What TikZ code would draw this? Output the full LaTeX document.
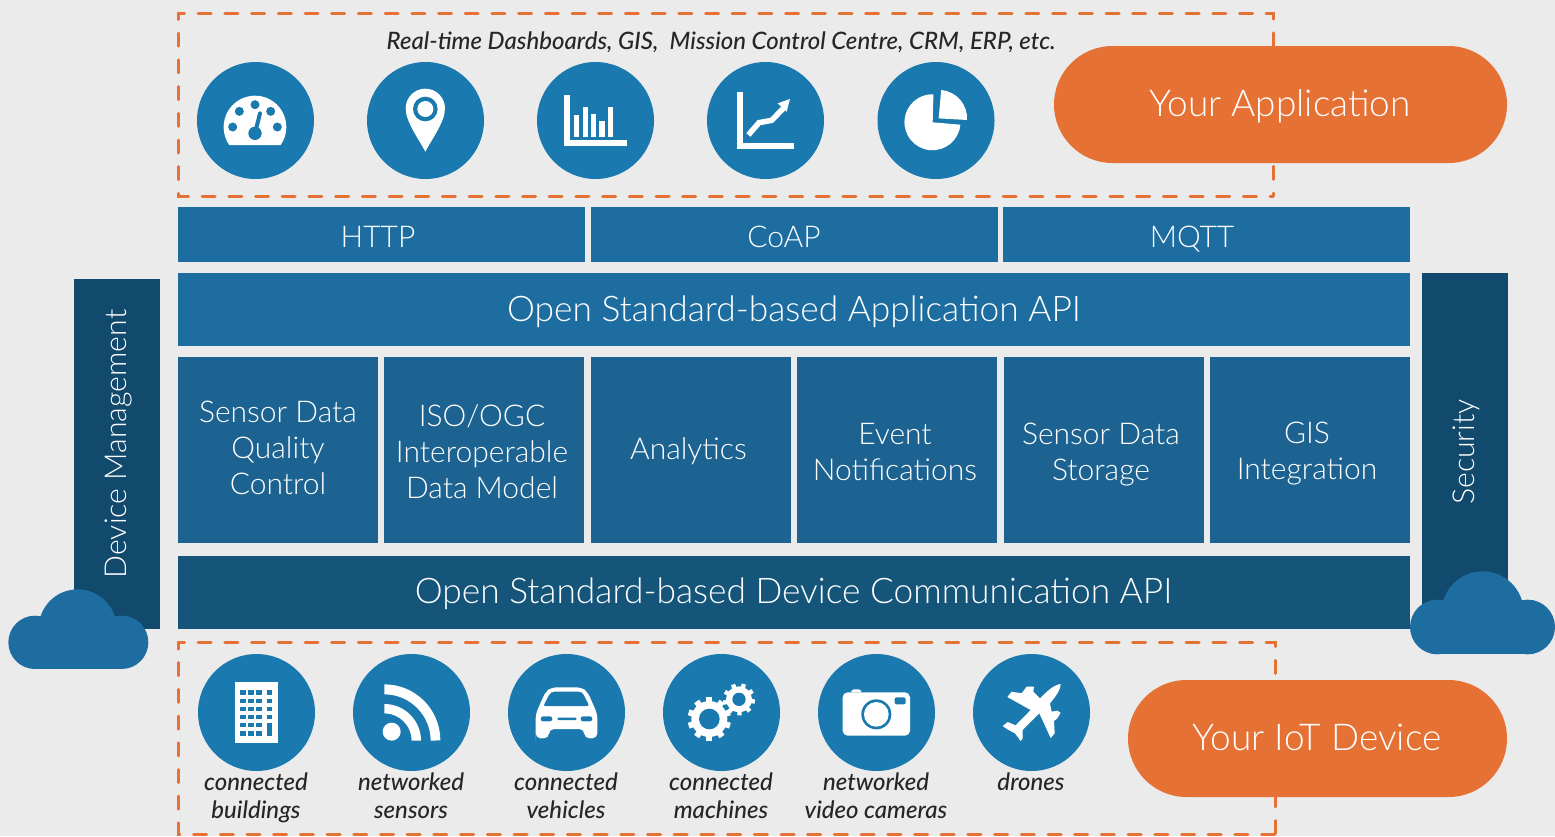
\documentclass[tikz,border=0pt]{standalone}
\usepackage{fontspec}
\setmainfont{Lato Light}
\newfontfamily\capf{Lato Medium}
\definecolor{bgc}{HTML}{EBEBEB}
\definecolor{circc}{HTML}{1A7AAF}
\definecolor{orng}{HTML}{E57134}
\definecolor{topb}{HTML}{1E6DA0}
\definecolor{midb}{HTML}{1D6391}
\definecolor{lowb}{HTML}{15557A}
\definecolor{sideb}{HTML}{124A6D}
\tikzset{
 lab/.style={inner sep=0pt,outer sep=0pt,text=white,align=center,anchor=center},
 protolab/.style={lab,font=\fontsize{30}{36}\selectfont},
 apilab/.style={lab,font=\fontsize{35.3}{42}\selectfont},
 celllab/.style={lab,font=\fontsize{30}{36}\selectfont},
 sidelab/.style={lab,rotate=90,font=\fontsize{30.2}{36}\selectfont},
 pill/.style={lab,fill=orng,rounded corners=58.5pt,minimum height=117pt,font=\fontsize{37}{44}\selectfont},
 disc/.style={circle,fill=circc,minimum size=117pt,inner sep=0pt,outer sep=0pt},
 dashbox/.style={draw=orng,line width=3pt,line cap=round,dash pattern=on 13pt off 13.7pt,dash phase=6.5pt},
 caplabel/.style={inner sep=0pt,align=center,text=black!85,font=\capf\itshape\fontsize{24}{28}\selectfont},
 ic/.style={fill=white,draw=none},
 icb/.style={fill=circc,draw=none}
}
\begin{document}
\begin{tikzpicture}[x=1pt,y=1pt,yscale=-1]
\useasboundingbox (0,0) rectangle (1555,836);
\fill[bgc] (0,0) rectangle (1555,836);
% dashed frames
\coordinate (ta) at (178,13); \coordinate (tb) at (1273,196);
\coordinate (ba) at (178,642.5); \coordinate (bb) at (1275,834);
\draw[dashbox] (ta) -- (ta -| tb) -- (tb);
\draw[dashbox] (ta) -- (ta |- tb) -- (tb);
\draw[dashbox] (ba) -- (ba -| bb) -- (bb);
\draw[dashbox] (ba) -- (ba |- bb) -- (bb);
% pills
\node[pill,minimum width=453pt] (app) at (1280.5,104.5) {};
\node[lab,font=\fontsize{37}{44}\selectfont] (applab) at (1280,106) {Your Application};
\node[pill,minimum width=379pt] (dev) at (1317.5,738.5) {};
\node[lab,font=\fontsize{37}{44}\selectfont] (devlab) at (1317,737.5) {Your IoT Device};
% top label
\node[caplabel] (toplabel) at (721,42) {Real-time Dashboards, GIS,\ \ Mission Control Centre, CRM, ERP, etc.};
% protocol row
\fill[topb] (178,207) rectangle (585,262);
\fill[topb] (591,207) rectangle (998,262);
\fill[topb] (1003,207) rectangle (1410,262);
\node[protolab] (http) at (378,236.5) {HTTP};
\node[protolab] (coap) at (784,236.5) {CoAP};
\node[protolab] (mqtt) at (1192,239.5) {MQTT};
\fill[topb] (178,273) rectangle (1410,346);
\node[apilab] (appapi) at (794,311.5) {Open Standard-based Application API};
% cells
\fill[midb] (178,357) rectangle (378,543);
\fill[midb] (384,357) rectangle (584,543);
\fill[midb] (591,357) rectangle (791,543);
\fill[midb] (797,357) rectangle (997,543);
\fill[midb] (1004,357) rectangle (1204,543);
\fill[midb] (1210,357) rectangle (1410,543);
\node[celllab] (c1) at (278,448) {Sensor Data\\Quality\\Control};
\node[celllab] (c2) at (482,452) {ISO/OGC\\Interoperable\\Data Model};
\node[celllab] (c3) at (688.5,451) {Analytics};
\node[celllab] (c4) at (895,452) {Event\\Notifications};
\node[celllab] (c5) at (1101,455) {Sensor Data\\Storage};
\node[celllab] (c6) at (1307,454) {GIS\\Integration};
\fill[lowb] (178,556) rectangle (1410,629);
\node[apilab] (devapi) at (793.5,593.5) {Open Standard-based Device Communication API};
% side bars
\fill[sideb] (74,279) rectangle (160,629);
\fill[sideb] (1422,273) rectangle (1508,620);
\node[sidelab] (devm) at (119,444) {Device Management};
\node[sidelab] (sec) at (1466,452) {Security};
% clouds
\begin{scope}[shift={(0,570)},scale=0.33333]
 \fill[topb] (105,217) circle (80);
 \fill[topb] (365,217) circle (80);
 \fill[topb] (233,175) circle (117);
 \fill[topb] (105,137) rectangle (365,297);
\end{scope}
\begin{scope}[shift={(1380,550)},scale=0.33333]
 \fill[topb] (172,231) circle (82);
 \fill[topb] (443,231) circle (82);
 \fill[topb] (308,187) circle (123);
 \fill[topb] (172,149) rectangle (443,313);
\end{scope}
% top discs
\node[disc] (d1) at (255.5,120.5) {};
\node[disc] (d2) at (425.5,120.5) {};
\node[disc] (d3) at (595.5,120.5) {};
\node[disc] (d4) at (765.5,120.5) {};
\node[disc] (d5) at (936,120.5) {};
% gauge + pin + bars
\begin{scope}[shift={(180,50)},scale=0.33333]
 \fill[ic] (148,285) arc (145:395:94) -- cycle;
 \foreach \p in {(158,231),(178,184),(225,164),(272,184),(292,231)} \fill[icb] \p circle (13.5);
 \fill[icb] (225,250) circle (20);
 \draw[circc,line width=4pt,line cap=round] (225,250) -- (240,190);
 % pin
 \fill[ic] (736,305) .. controls (715,265) and (677,215) .. (677,175) arc (180:360:59) .. controls (795,215) and (757,265) .. (736,305) -- cycle;
 \fill[icb] (736,177) circle (37);
 \fill[ic] (736,177) circle (24);
 % bars
 \fill[ic] (1153,135) rectangle (1170,287);
 \fill[ic] (1153,270) rectangle (1340,287);
 \fill[ic] (1183,195) rectangle (1198,262);
 \fill[ic] (1208,170) rectangle (1224,262);
 \fill[ic] (1233,192) rectangle (1249,262);
 \fill[ic] (1258,212) rectangle (1274,262);
 \fill[ic] (1284,170) rectangle (1299,262);
\end{scope}
% line chart + pie
\begin{scope}[shift={(660,50)},scale=0.33333]
 \fill[ic] (231,126) rectangle (249,297);
 \fill[ic] (231,279) rectangle (402,297);
 \draw[white,line width=5.5pt] (265,255) -- (297,218) -- (335,211) -- (375,170);
 \fill[ic] (390,147) -- (353,160) -- (380,185) -- cycle;
 \fill[ic] (818,217) -- (901,224) arc (5:272:84) -- cycle;
 \fill[ic] (836,205) -- (921,210) arc (3.5:-85:85) -- cycle;
\end{scope}
% bottom discs
\node[disc] (e1) at (256.5,712.5) {};
\node[disc] (e2) at (411.5,712.5) {};
\node[disc] (e3) at (566.5,712.5) {};
\node[disc] (e4) at (721.5,712.5) {};
\node[disc] (e5) at (876.5,712.5) {};
\node[disc] (e6) at (1031.5,712.5) {};
% building, wifi, car
\begin{scope}[shift={(190,650)},scale=0.33333]
 \fill[ic] (135,97) rectangle (264,279);
 \foreach \y/\h in {121/136,146/160,170/184,194/208,218/232,243/258}
  \foreach \x/\w in {151/167,175/191,199/215} \fill[icb] (\x,\y) rectangle (\w,\h);
 \foreach \y/\h in {121/136,146/160,170/184,194/208,218/258} \fill[icb] (231,\y) rectangle (247,\h);
 % wifi
 \fill[ic] (605,245) circle (27);
 \fill[ic] (583,103) arc (-90:0:168) -- (722,272) arc (0:-90:139) -- cycle;
 \fill[ic] (583,162) arc (-90:0:110) -- (665,272) arc (0:-90:82) -- cycle;
 % car
 \fill[ic,rounded corners=5pt] (1037,258) -- (1037,192) -- (1066,126) -- (1085,112) -- (1174,112) -- (1193,126) -- (1222,192) -- (1222,265) -- (1183,265) -- (1183,237) -- (1077,237) -- (1077,265) -- (1037,265) -- cycle;
 \fill[icb,rounded corners=2pt] (1060,168) -- (1080,130) -- (1088,125) -- (1171,125) -- (1179,130) -- (1198,168) -- cycle;
 \fill[icb,rounded corners=2.4pt] (1052,199) rectangle (1087,214);
 \fill[icb,rounded corners=1pt] (1102,203) rectangle (1160,210);
 \fill[icb,rounded corners=2.4pt] (1172,199) rectangle (1207,214);
\end{scope}
% gears, camera, plane
\begin{scope}[shift={(650,650)},scale=0.33333]
 \fill[ic] (178,207) circle (54);
 \foreach \a in {0,36,...,324} \fill[ic,shift={(178,207)},rotate=\a] (-9,-65) rectangle (9,-45);
 \fill[icb] (178,207) circle (31);
 \fill[ic] (267,148) circle (39);
 \foreach \a in {18,58,...,338} \fill[ic,shift={(267,148)},rotate=\a] (-6.5,-48) rectangle (6.5,-33);
 \fill[icb] (267,148) circle (20);
 % camera
 \fill[ic,rounded corners=2pt] (603,127) -- (605,118) -- (633,118) -- (635,127) -- cycle;
 \fill[ic,rounded corners=5pt] (578,127) rectangle (780,257);
 \fill[icb] (679,193) circle (45);
 \fill[ic] (679,193) circle (37);
 \fill[icb,rounded corners=2pt] (734,142) rectangle (767,163);
 % plane
 \fill[ic] (1232,102) .. controls (1232,115) and (1225,130) .. (1200,160) -- (1205,185) -- (1222,182) -- (1232,188) -- (1222,205) -- (1212,213) -- (1214,250) -- (1202,264) -- (1168,190) -- (1118,240) -- (1118,265) -- (1112,273) -- (1095,250) -- (1072,238) -- (1058,228) -- (1073,216) -- (1097,226) -- (1142,180) -- (1072,141) -- (1085,125) -- (1115,130) -- (1130,110) -- (1152,110) -- (1150,125) -- (1170,145) .. controls (1190,125) and (1210,105) .. (1232,102) -- cycle;
\end{scope}
% captions
\node[caplabel] (l1) at (256,798) {connected\\buildings};
\node[caplabel] (l2) at (411,796) {networked\\sensors};
\node[caplabel] (l3) at (566,796) {connected\\vehicles};
\node[caplabel] (l4) at (721,796) {connected\\machines};
\node[caplabel] (l5) at (876,796) {networked\\video cameras};
\node[caplabel,anchor=base] (l6) at (1031,790) {drones};
\end{tikzpicture}
\end{document}
